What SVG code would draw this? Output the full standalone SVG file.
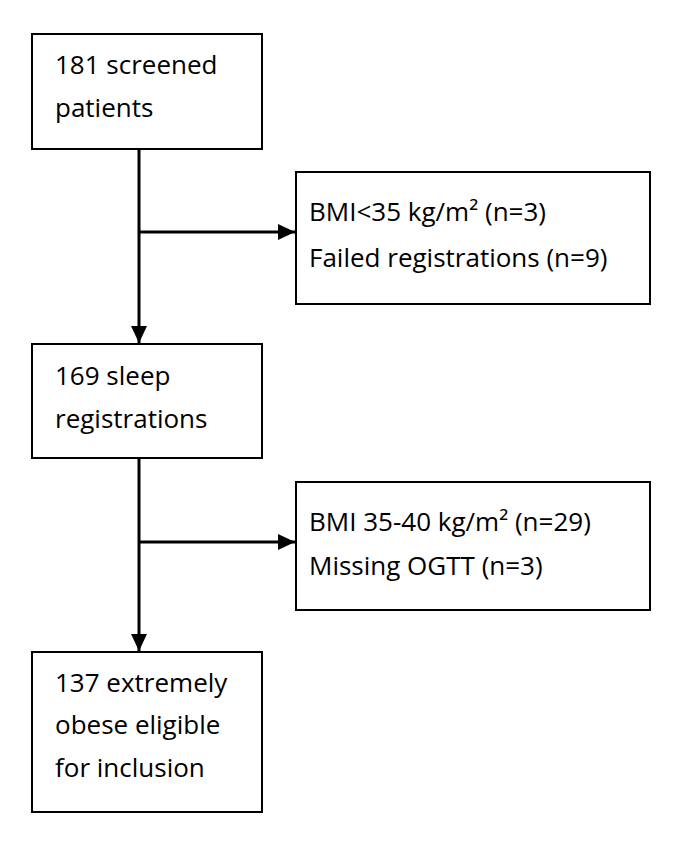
<svg xmlns="http://www.w3.org/2000/svg" width="685" height="841" viewBox="0 0 685 841">
<defs>
<style>
.box{fill:#fff;stroke:#000;stroke-width:2}
.t{font-family:"Open Sans","Liberation Sans",sans-serif;font-size:26px;fill:#000}
.c{stroke:#000;stroke-width:3;fill:none}
</style>
<marker id="ah" markerUnits="userSpaceOnUse" markerWidth="18" markerHeight="16" refX="17" refY="8" orient="auto">
<path d="M0,0 L17,8 L0,16 Z" fill="#000"/>
</marker>
</defs>
<rect width="685" height="841" fill="#fff"/>
<g id="connectors">
<line class="c" x1="139" y1="149" x2="139" y2="343" marker-end="url(#ah)"/>
<line class="c" x1="139" y1="232" x2="295" y2="232" marker-end="url(#ah)"/>
<line class="c" x1="139" y1="458" x2="139" y2="651" marker-end="url(#ah)"/>
<line class="c" x1="139" y1="542" x2="295" y2="542" marker-end="url(#ah)"/>
</g>
<g id="screened">
<rect class="box" x="32" y="34" width="230" height="115"/>
<text class="t" x="55" y="74">181 screened</text>
<text class="t" x="55" y="117">patients</text>
</g>
<g id="excluded1">
<rect class="box" x="296" y="172" width="354" height="132"/>
<text class="t" x="309" y="221">BMI&lt;35 kg/m² (n=3)</text>
<text class="t" x="309" y="267">Failed registrations (n=9)</text>
</g>
<g id="sleep">
<rect class="box" x="32" y="344" width="230" height="114"/>
<text class="t" x="55" y="385">169 sleep</text>
<text class="t" x="55" y="428">registrations</text>
</g>
<g id="excluded2">
<rect class="box" x="296" y="482" width="354" height="128"/>
<text class="t" x="309" y="531">BMI 35-40 kg/m² (n=29)</text>
<text class="t" x="309" y="575">Missing OGTT (n=3)</text>
</g>
<g id="eligible">
<rect class="box" x="32" y="652" width="230" height="160"/>
<text class="t" x="55" y="692">137 extremely</text>
<text class="t" x="55" y="734">obese eligible</text>
<text class="t" x="55" y="777">for inclusion</text>
</g>
</svg>
